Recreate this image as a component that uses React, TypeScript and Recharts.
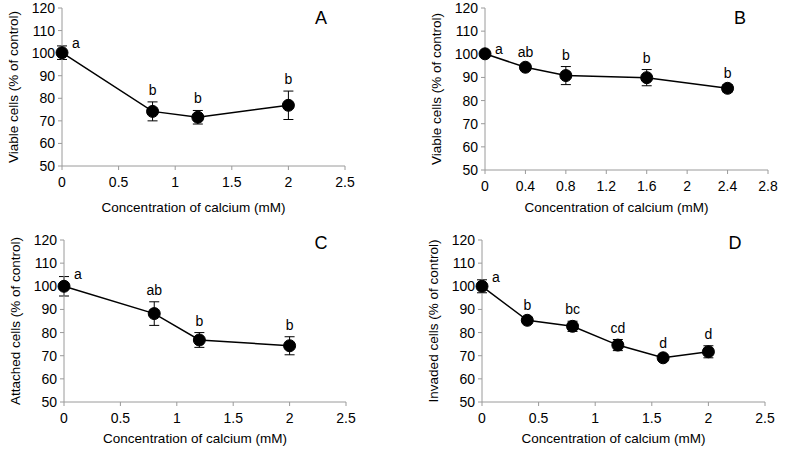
import { ErrorBar, Label, LabelList, Line, LineChart, XAxis, YAxis } from "recharts"

const FONT = '"Liberation Sans", Arial, sans-serif'
const AXIS = "#9a9a9a"

// shared y ticks (% of control)
const Y_TICKS = [50, 60, 70, 80, 90, 100, 110, 120]
const X_TICKS_25 = [0, 0.5, 1, 1.5, 2, 2.5]
const X_TICKS_28 = [0, 0.4, 0.8, 1.2, 1.6, 2, 2.4, 2.8]

// A - viable cells
const A_CONC = [0, 0.8, 1.2, 2]
const A_MEAN = [100.2, 74.2, 71.6, 76.9]
const A_ERR = [3, 4.2, 3, 6.3]
const A_GROUP = ["a", "b", "b", "b"]

// B - viable cells
const B_CONC = [0, 0.4, 0.8, 1.6, 2.4]
const B_MEAN = [100.2, 94.4, 90.8, 89.9, 85.3]
const B_ERR = [1, 1.2, 3.9, 3.5, 1.6]
const B_GROUP = ["a", "ab", "b", "b", "b"]

// C - attached cells
const C_CONC = [0, 0.8, 1.2, 2]
const C_MEAN = [100, 88.2, 76.8, 74.3]
const C_ERR = [4.2, 5.1, 3.2, 3.9]
const C_GROUP = ["a", "ab", "b", "b"]

// D - invaded cells
const D_CONC = [0, 0.4, 0.8, 1.2, 1.6, 2]
const D_MEAN = [100, 85.3, 82.7, 74.6, 69.1, 71.7]
const D_ERR = [2.8, 1.4, 2.2, 2.4, 1.2, 2.6]
const D_GROUP = ["a", "b", "bc", "cd", "d", "d"]

const X_TITLE = "Concentration of calcium (mM)"

type PanelProps = {
  tag: string
  yTitle: string
  conc: number[]
  mean: number[]
  err: number[]
  group: string[]
  xTicks: number[]
  left: number
  top: number
  margin: { top: number; right: number; bottom: number; left: number }
  xTitleGap: number
  tagX: number
}

const W = 393
const H = 225

function GroupLabel(props: any) {
  const x = props.x ?? props.viewBox?.x
  const y = props.y ?? props.viewBox?.y
  if (x == null || y == null) return null
  const first = props.index === 0
  return (
    <text
      x={first ? x + 10 : x}
      y={first ? y - 3 : y - 12}
      textAnchor={first ? "start" : "middle"}
      dominantBaseline="central"
      fontSize={14}
      fontFamily={FONT}
      fill="#000"
    >
      {props.value}
    </text>
  )
}

function Panel(p: PanelProps) {
  const rows = p.conc.map((x, i) => ({
    x,
    y: p.mean[i],
    err: p.err[i],
    top: p.mean[i] + p.err[i],
    grp: p.group[i],
  }))
  const xMax = p.xTicks[p.xTicks.length - 1]
  const tick = { fill: "#000", fontSize: 14, fontFamily: FONT }

  return (
    <div style={{ position: "absolute", left: p.left, top: p.top, width: W, height: H }}>
      <LineChart width={W} height={H} data={rows} margin={p.margin}>
        <XAxis
          type="number"
          dataKey="x"
          domain={[0, xMax]}
          ticks={p.xTicks}
          interval={0}
          stroke={AXIS}
          tickSize={4}
          tickMargin={7}
          tick={tick}
          height={40}
          tickFormatter={(v) => String(v)}
        >
          <Label
            content={({ viewBox }: any) => (
              <text
                x={viewBox.x + viewBox.width / 2 - 10}
                y={viewBox.y + p.xTitleGap}
                textAnchor="middle"
                dominantBaseline="central"
                fontSize={13.5}
                fontFamily={FONT}
                fill="#000"
              >
                {X_TITLE}
              </text>
            )}
          />
        </XAxis>
        <YAxis
          type="number"
          domain={[50, 120]}
          ticks={Y_TICKS}
          interval={0}
          width={42}
          stroke={AXIS}
          tickSize={4}
          tickMargin={3}
          tick={tick}
        >
          <Label
            content={({ viewBox }: any) => {
              const cx = viewBox.x - 7
              const cy = viewBox.y + viewBox.height / 2
              return (
                <text
                  transform={`translate(${cx},${cy}) rotate(-90)`}
                  textAnchor="middle"
                  dominantBaseline="central"
                  fontSize={13.5}
                  fontFamily={FONT}
                  fill="#000"
                >
                  {p.yTitle}
                </text>
              )
            }}
          />
        </YAxis>
        <Line
          dataKey="y"
          stroke="#000"
          strokeWidth={1.5}
          dot={{ r: 6, fill: "#000", stroke: "#000", strokeWidth: 1 }}
          activeDot={false}
          isAnimationActive={false}
        >
          <ErrorBar dataKey="err" width={5} stroke="#000" strokeWidth={1} direction="y" />
        </Line>
        <Line
          dataKey="top"
          stroke="none"
          dot={false}
          activeDot={false}
          legendType="none"
          isAnimationActive={false}
        >
          <LabelList dataKey="grp" content={GroupLabel} />
        </Line>
      </LineChart>
      <div
        style={{
          position: "absolute",
          left: p.tagX,
          top: 18,
          transform: "translate(-50%, -50%)",
          fontFamily: FONT,
          fontSize: 18,
          color: "#000",
          lineHeight: 1,
        }}
      >
        {p.tag}
      </div>
    </div>
  )
}

export default function App() {
  return (
    <div
      style={{
        position: "absolute",
        left: 0,
        top: 0,
        width: 785,
        height: 451,
        background: "#fff",
        fontFamily: FONT,
      }}
    >
      <Panel
        tag="A"
        yTitle="Viable cells (% of control)"
        conc={A_CONC}
        mean={A_MEAN}
        err={A_ERR}
        group={A_GROUP}
        xTicks={X_TICKS_25}
        left={0}
        top={0}
        margin={{ top: 8, right: 48, bottom: 19, left: 20 }}
        xTitleGap={41}
        tagX={321}
      />
      <Panel
        tag="B"
        yTitle="Viable cells (% of control)"
        conc={B_CONC}
        mean={B_MEAN}
        err={B_ERR}
        group={B_GROUP}
        xTicks={X_TICKS_28}
        left={392}
        top={0}
        margin={{ top: 8, right: 17, bottom: 15, left: 51 }}
        xTitleGap={37}
        tagX={348}
      />
      <Panel
        tag="C"
        yTitle="Attached cells (% of control)"
        conc={C_CONC}
        mean={C_MEAN}
        err={C_ERR}
        group={C_GROUP}
        xTicks={X_TICKS_25}
        left={0}
        top={225}
        margin={{ top: 15, right: 47, bottom: 8, left: 22 }}
        xTitleGap={36}
        tagX={321}
      />
      <Panel
        tag="D"
        yTitle="Invaded cells (% of control)"
        conc={D_CONC}
        mean={D_MEAN}
        err={D_ERR}
        group={D_GROUP}
        xTicks={X_TICKS_25}
        left={392}
        top={225}
        margin={{ top: 15, right: 20, bottom: 8, left: 48 }}
        xTitleGap={36}
        tagX={343}
      />
    </div>
  )
}
